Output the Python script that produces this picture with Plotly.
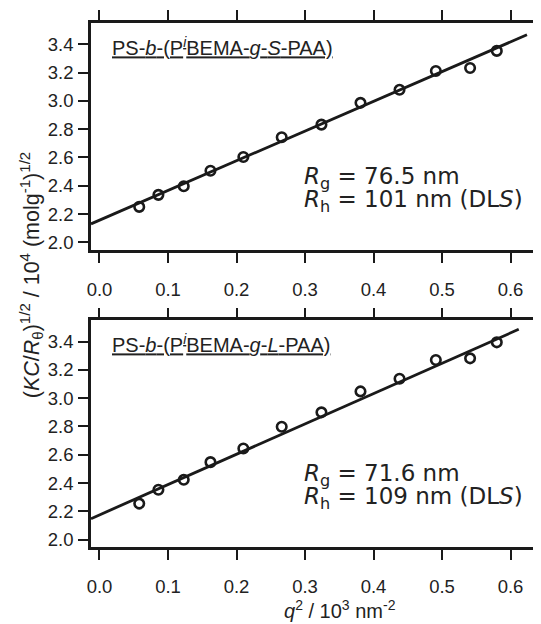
import numpy as np
import plotly.graph_objects as go

# ---------------- data ----------------
q2 = [0.058, 0.086, 0.123, 0.162, 0.210, 0.266, 0.324, 0.381, 0.438, 0.491, 0.541, 0.580]
kc_S = [2.251, 2.336, 2.397, 2.506, 2.603, 2.743, 2.832, 2.986, 3.078, 3.211, 3.232, 3.353]
kc_L = [2.255, 2.353, 2.423, 2.548, 2.644, 2.798, 2.900, 3.048, 3.138, 3.270, 3.282, 3.395]

fit_S = {"intercept": 2.157, "slope": 2.099, "x_end": 0.624}
fit_L = {"intercept": 2.175, "slope": 2.144, "x_end": 0.612}

x_tickvals = [0.0, 0.1, 0.2, 0.3, 0.4, 0.5, 0.6]
x_ticktext = ["0.0", "0.1", "0.2", "0.3", "0.4", "0.5", "0.6"]
y_tickvals = [2.0, 2.2, 2.4, 2.6, 2.8, 3.0, 3.2, 3.4]
y_ticktext = ["2.0", "2.2", "2.4", "2.6", "2.8", "3.0", "3.2", "3.4"]

label_S = "<u>PS-<i>b</i>-(P<sup><i>i</i></sup>BEMA-<i>g</i>-<i>S</i>-PAA)</u>"
label_L = "<u>PS-<i>b</i>-(P<sup><i>i</i></sup>BEMA-<i>g</i>-<i>L</i>-PAA)</u>"
rg_S = "<i>R</i><sub>g</sub> = 76.5 nm"
rh_S = "<i>R</i><sub>h</sub> = 101 nm (DL<i>S</i>)"
rg_L = "<i>R</i><sub>g</sub> = 71.6 nm"
rh_L = "<i>R</i><sub>h</sub> = 109 nm (DL<i>S</i>)"

# ---------------- layout geometry ----------------
PAGE_W, PAGE_H = 541, 624
OFF = 8  # default body margin of the html page
W, H = PAGE_W - OFF, PAGE_H - OFF
ML, MR, MT, MB = 91 - OFF, 2, 23 - OFF, 76.5
PW, PH = W - ML - MR, H - MT - MB
XR = [-0.0124, 0.6416]
YR = [1.948, 3.550]


def px(xp):
    return (xp - OFF - ML) / PW


def py(yp):
    return (H - MB - (yp - OFF)) / PH


top_dom = [py(250), py(23)]
bot_dom = [py(547.5), py(320.7)]

BLACK = "#1a1a1a"
TICKFONT = dict(family="Liberation Sans, Arial, sans-serif", size=18.5, color="#222")
ANNFONT = dict(family="DejaVu Sans, sans-serif", size=23, color="#222")
LABFONT = dict(family="Liberation Sans, Arial, sans-serif", size=20, color="#222")
XTFONT = dict(family="Liberation Sans, Arial, sans-serif", size=20, color="#222")
YTFONT = dict(family="Liberation Sans, Arial, sans-serif", size=21.5, color="#222")

fig = go.Figure()

for kc, fit, xa, ya in [(kc_S, fit_S, "x", "y"), (kc_L, fit_L, "x2", "y2")]:
    fx = np.array([XR[0], fit["x_end"]])
    fy = fit["intercept"] + fit["slope"] * fx
    fig.add_trace(go.Scatter(x=fx, y=fy, mode="lines", line=dict(color=BLACK, width=2.8),
                             xaxis=xa, yaxis=ya, showlegend=False, hoverinfo="skip"))
    fig.add_trace(go.Scatter(x=q2, y=kc, mode="markers",
                             marker=dict(symbol="circle-open", size=9.5, color=BLACK,
                                         line=dict(color=BLACK, width=2.6)),
                             xaxis=xa, yaxis=ya, showlegend=False))

axis_common = dict(showline=True, linewidth=2.5, linecolor=BLACK, mirror="allticks",
                   ticks="outside", ticklen=10, tickwidth=2.2, tickcolor=BLACK,
                   showgrid=False, zeroline=False, tickfont=TICKFONT, automargin=False)

fig.update_layout(
    width=W, height=H,
    margin=dict(l=ML, r=MR, t=MT, b=MB),
    paper_bgcolor="white", plot_bgcolor="white",
    xaxis=dict(domain=[0, 1], range=XR, tickvals=x_tickvals, ticktext=x_ticktext,
               anchor="y", ticklabelstandoff=11, **axis_common),
    xaxis2=dict(domain=[0, 1], range=XR, tickvals=x_tickvals, ticktext=x_ticktext,
                anchor="y2", ticklabelstandoff=11, **axis_common),
    yaxis=dict(domain=top_dom, range=YR, tickvals=y_tickvals, ticktext=y_ticktext,
               anchor="x", ticklabelstandoff=1, **axis_common),
    yaxis2=dict(domain=bot_dom, range=YR, tickvals=y_tickvals, ticktext=y_ticktext,
                anchor="x2", ticklabelstandoff=1, **axis_common),
)

annotations = []
for off, lab, rg, rh in [(0, label_S, rg_S, rh_S), (297.7, label_L, rg_L, rh_L)]:
    annotations.append(dict(text=lab, xref="paper", yref="paper", x=px(109.7), y=py(46.5 + off),
                            xanchor="left", yanchor="middle", showarrow=False, font=LABFONT))
    annotations.append(dict(text=rg, xref="paper", yref="paper", x=px(302), y=py(161 + off),
                            xanchor="left", yanchor="top", showarrow=False, font=ANNFONT))
    annotations.append(dict(text=rh, xref="paper", yref="paper", x=px(302), y=py(184 + off),
                            xanchor="left", yanchor="top", showarrow=False, font=ANNFONT))

annotations.append(dict(
    text="(<i>KC</i>/<i>R</i><sub>θ</sub>)<sup>1/2</sup> / 10<sup>4</sup> (molg<sup>-1</sup>)<sup>1/2</sup>",
    xref="paper", yref="paper", x=px(31), y=py(275.5), textangle=-90,
    xanchor="center", yanchor="middle", showarrow=False, font=YTFONT))
annotations.append(dict(
    text="<i>q</i><sup>2</sup> / 10<sup>3</sup> nm<sup>-2</sup>",
    xref="paper", yref="paper", x=px(340), y=py(624.5), xanchor="center", yanchor="bottom",
    showarrow=False, font=XTFONT))

fig.update_layout(annotations=annotations)
fig.write_html("out.html")
